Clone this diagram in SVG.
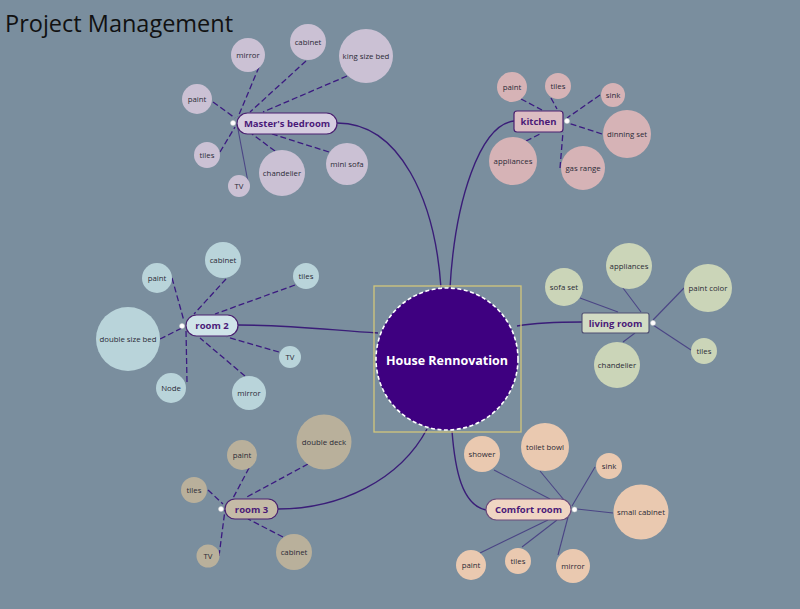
<svg xmlns="http://www.w3.org/2000/svg" width="800" height="609" viewBox="0 0 800 609">
<style>
text{font-family:"Open Sans","Noto Sans",sans-serif;text-anchor:middle;dominant-baseline:central}
.b{font-size:7.8px;fill:#2a2a36}
.n{font-size:9.5px;font-weight:bold;fill:#4a1a78}
.t{font-size:23.5px;fill:#111;text-anchor:start;dominant-baseline:auto}
.main{stroke:#3a1d78;stroke-width:1.4;fill:none}
.d{stroke:#3b1a80;stroke-width:1.3;stroke-dasharray:6,3;fill:none}
.s{stroke:#4b4585;stroke-width:1.1;fill:none}
.dot{fill:#fff;stroke:#ccc;stroke-width:0.5}
.bed{fill:#cbc1d4}.kit{fill:#d6b3b6}.r2{fill:#b9d4da}.liv{fill:#cbd5b8}.r3{fill:#b9b09b}.cr{fill:#eac9b0}
</style>
<rect width="800" height="609" fill="#7a8e9e"/>
<text class="t" x="5" y="32">Project Management</text>

<g id="connectors">
<path class="main" d="M337,123 C400,123 435,200 441,288"/>
<path class="main" d="M514,121 C480,125 455,200 450,288"/>
<path class="main" d="M238,325 C290,325 330,330 378,333"/>
<path class="main" d="M582,322 C560,322 535,323 517,326"/>
<path class="main" d="M278,509 C340,509 400,480 427,429"/>
<path class="main" d="M486,510 C462,505 455,470 452,431"/>
<!-- bedroom -->
<path class="d" d="M259,67 L238,117"/>
<path class="d" d="M306,61 L250,112"/>
<path class="d" d="M347,76 L263,112"/>
<path class="d" d="M213,102 L235,118"/>
<path class="d" d="M220,152 L235,127"/>
<path class="s" d="M248,182 L237,124"/>
<path class="d" d="M275,151 L252,134"/>
<path class="d" d="M329,152 L272,134"/>
<!-- kitchen -->
<path class="d" d="M521,99 L542,110"/>
<path class="d" d="M551,98 L557,109"/>
<path class="d" d="M600,95 L567,118"/>
<path class="d" d="M602,134 L568,123"/>
<path class="d" d="M560,168 L563,132"/>
<path class="d" d="M526,141 L542,133"/>
<!-- room 2 -->
<path class="d" d="M172,278 L184,321"/>
<path class="d" d="M226,279 L194,314"/>
<path class="d" d="M295,285 L215,314"/>
<path class="d" d="M160,339 L182,328"/>
<path class="d" d="M187,382 L186,330"/>
<path class="d" d="M245,376 L200,338"/>
<path class="d" d="M279,352 L227,337"/>
<!-- living room -->
<path class="s" d="M580,298 L618,312"/>
<path class="s" d="M623,288 L641,312"/>
<path class="s" d="M684,288 L653,320"/>
<path class="s" d="M691,350 L653,325"/>
<path class="s" d="M623,342 L635,333"/>
<!-- room 3 -->
<path class="d" d="M249,468 L232,500"/>
<path class="d" d="M308,464 L245,498"/>
<path class="d" d="M208,490 L223,504"/>
<path class="d" d="M219,556 L225,510"/>
<path class="d" d="M283,537 L248,519"/>
<!-- comfort room -->
<path class="s" d="M494,470 L550,499"/>
<path class="s" d="M540,471 L564,500"/>
<path class="s" d="M595,467 L572,506"/>
<path class="s" d="M613,513 L577,509"/>
<path class="s" d="M480,553 L548,520"/>
<path class="s" d="M522,547 L557,520"/>
<path class="s" d="M558,555 L568,517"/>
</g>

<g id="center">
<rect x="374" y="286" width="147" height="146" fill="none" stroke="#d3c77c" stroke-width="1.3"/>
<circle cx="447" cy="359" r="71" fill="#3e0080" stroke="#fff" stroke-width="1.6" stroke-dasharray="4,2.5"/>
<text x="447" y="360" style="font-size:12.5px;font-weight:bold;fill:#fff">House Rennovation</text>
</g>

<g id="masters-bedroom">
<rect x="237" y="113" width="100" height="21" rx="10.5" fill="#d6cde0" stroke="#4a2070" stroke-width="1.2"/>
<text class="n" x="287" y="123.5">Master's bedroom</text>
<circle class="dot" cx="233" cy="123" r="2.5"/>
</g>
<g id="bed-mirror"><circle class="bed" cx="248" cy="55" r="17"/><text class="b" x="248" y="55">mirror</text></g>
<g id="bed-cabinet"><circle class="bed" cx="308" cy="42" r="18"/><text class="b" x="308" y="42">cabinet</text></g>
<g id="bed-king"><circle class="bed" cx="366" cy="56" r="27"/><text class="b" x="366" y="56">king size bed</text></g>
<g id="bed-paint"><circle class="bed" cx="197" cy="99" r="15"/><text class="b" x="197" y="99">paint</text></g>
<g id="bed-tiles"><circle class="bed" cx="207" cy="155" r="13"/><text class="b" x="207" y="155">tiles</text></g>
<g id="bed-tv"><circle class="bed" cx="239" cy="186" r="11"/><text class="b" x="239" y="186">TV</text></g>
<g id="bed-chandelier"><circle class="bed" cx="282" cy="173" r="23"/><text class="b" x="282" y="173">chandelier</text></g>
<g id="bed-minisofa"><circle class="bed" cx="347" cy="164" r="21"/><text class="b" x="347" y="164">mini sofa</text></g>

<g id="kitchen">
<rect x="514" y="111" width="49" height="21" rx="3" fill="#dcbdc3" stroke="#4a2070" stroke-width="1.2"/>
<text class="n" x="538.5" y="121.5">kitchen</text>
<circle class="dot" cx="567" cy="121" r="2.5"/>
</g>
<g id="kit-paint"><circle class="kit" cx="512" cy="87" r="15"/><text class="b" x="512" y="87">paint</text></g>
<g id="kit-tiles"><circle class="kit" cx="558" cy="86" r="13"/><text class="b" x="558" y="86">tiles</text></g>
<g id="kit-sink"><circle class="kit" cx="613" cy="95" r="12"/><text class="b" x="613" y="95">sink</text></g>
<g id="kit-dinning"><circle class="kit" cx="627" cy="134" r="24"/><text class="b" x="627" y="134">dinning set</text></g>
<g id="kit-gas"><circle class="kit" cx="583" cy="168" r="22"/><text class="b" x="583" y="168">gas range</text></g>
<g id="kit-appliances"><circle class="kit" cx="513" cy="161" r="24"/><text class="b" x="513" y="161">appliances</text></g>

<g id="room2">
<rect x="186" y="315" width="52" height="21" rx="10.5" fill="#d0e4e9" stroke="#4a2070" stroke-width="1.2"/>
<text class="n" x="212" y="325.5">room 2</text>
<circle class="dot" cx="182" cy="326" r="2.5"/>
</g>
<g id="r2-cabinet"><circle class="r2" cx="223" cy="260" r="18"/><text class="b" x="223" y="260">cabinet</text></g>
<g id="r2-paint"><circle class="r2" cx="157" cy="278" r="15"/><text class="b" x="157" y="278">paint</text></g>
<g id="r2-tiles"><circle class="r2" cx="306" cy="276" r="13"/><text class="b" x="306" y="276">tiles</text></g>
<g id="r2-bed"><circle class="r2" cx="128" cy="339" r="32"/><text class="b" x="128" y="339">double size bed</text></g>
<g id="r2-tv"><circle class="r2" cx="290" cy="357" r="11"/><text class="b" x="290" y="357">TV</text></g>
<g id="r2-node"><circle class="r2" cx="171" cy="388" r="15"/><text class="b" x="171" y="388">Node</text></g>
<g id="r2-mirror"><circle class="r2" cx="249" cy="393" r="17"/><text class="b" x="249" y="393">mirror</text></g>

<g id="living-room">
<rect x="582" y="313" width="67" height="20" rx="2" fill="#d2dbc4" stroke="#4f4f72" stroke-width="1.1"/>
<text class="n" x="615.5" y="323">living room</text>
<circle class="dot" cx="653" cy="323" r="2.5"/>
</g>
<g id="liv-sofa"><circle class="liv" cx="564" cy="287" r="19"/><text class="b" x="564" y="287">sofa set</text></g>
<g id="liv-appliances"><circle class="liv" cx="629" cy="266" r="23"/><text class="b" x="629" y="266">appliances</text></g>
<g id="liv-paint"><circle class="liv" cx="708" cy="288" r="24"/><text class="b" x="708" y="288">paint color</text></g>
<g id="liv-tiles"><circle class="liv" cx="704" cy="351" r="13"/><text class="b" x="704" y="351">tiles</text></g>
<g id="liv-chandelier"><circle class="liv" cx="617" cy="365" r="23"/><text class="b" x="617" y="365">chandelier</text></g>

<g id="room3">
<rect x="225" y="499" width="53" height="20" rx="10" fill="#c5bba7" stroke="#4a2070" stroke-width="1.2"/>
<text class="n" x="251.5" y="509">room 3</text>
<circle class="dot" cx="221" cy="509" r="2.5"/>
</g>
<g id="r3-paint"><circle class="r3" cx="242" cy="455" r="15"/><text class="b" x="242" y="455">paint</text></g>
<g id="r3-deck"><circle class="r3" cx="324" cy="442" r="27.5"/><text class="b" x="324" y="442">double deck</text></g>
<g id="r3-tiles"><circle class="r3" cx="194" cy="490" r="13"/><text class="b" x="194" y="490">tiles</text></g>
<g id="r3-tv"><circle class="r3" cx="208" cy="556" r="11.5"/><text class="b" x="208" y="556">TV</text></g>
<g id="r3-cabinet"><circle class="r3" cx="294" cy="552" r="18"/><text class="b" x="294" y="552">cabinet</text></g>

<g id="comfort-room">
<rect x="486" y="499" width="85" height="21" rx="10.5" fill="#f0d5c3" stroke="#6a4a7a" stroke-width="1.1"/>
<text class="n" x="528.5" y="509.5">Comfort room</text>
<circle class="dot" cx="574.5" cy="509.5" r="2.5"/>
</g>
<g id="cr-shower"><circle class="cr" cx="482" cy="454" r="18"/><text class="b" x="482" y="454">shower</text></g>
<g id="cr-toilet"><circle class="cr" cx="545" cy="447" r="24"/><text class="b" x="545" y="447">toilet bowl</text></g>
<g id="cr-sink"><circle class="cr" cx="609" cy="466" r="13"/><text class="b" x="609" y="466">sink</text></g>
<g id="cr-cabinet"><circle class="cr" cx="641" cy="512" r="27.5"/><text class="b" x="641" y="512">small cabinet</text></g>
<g id="cr-paint"><circle class="cr" cx="471" cy="565" r="15"/><text class="b" x="471" y="565">paint</text></g>
<g id="cr-tiles"><circle class="cr" cx="518" cy="561" r="13"/><text class="b" x="518" y="561">tiles</text></g>
<g id="cr-mirror"><circle class="cr" cx="573" cy="566" r="17"/><text class="b" x="573" y="566">mirror</text></g>
</svg>
